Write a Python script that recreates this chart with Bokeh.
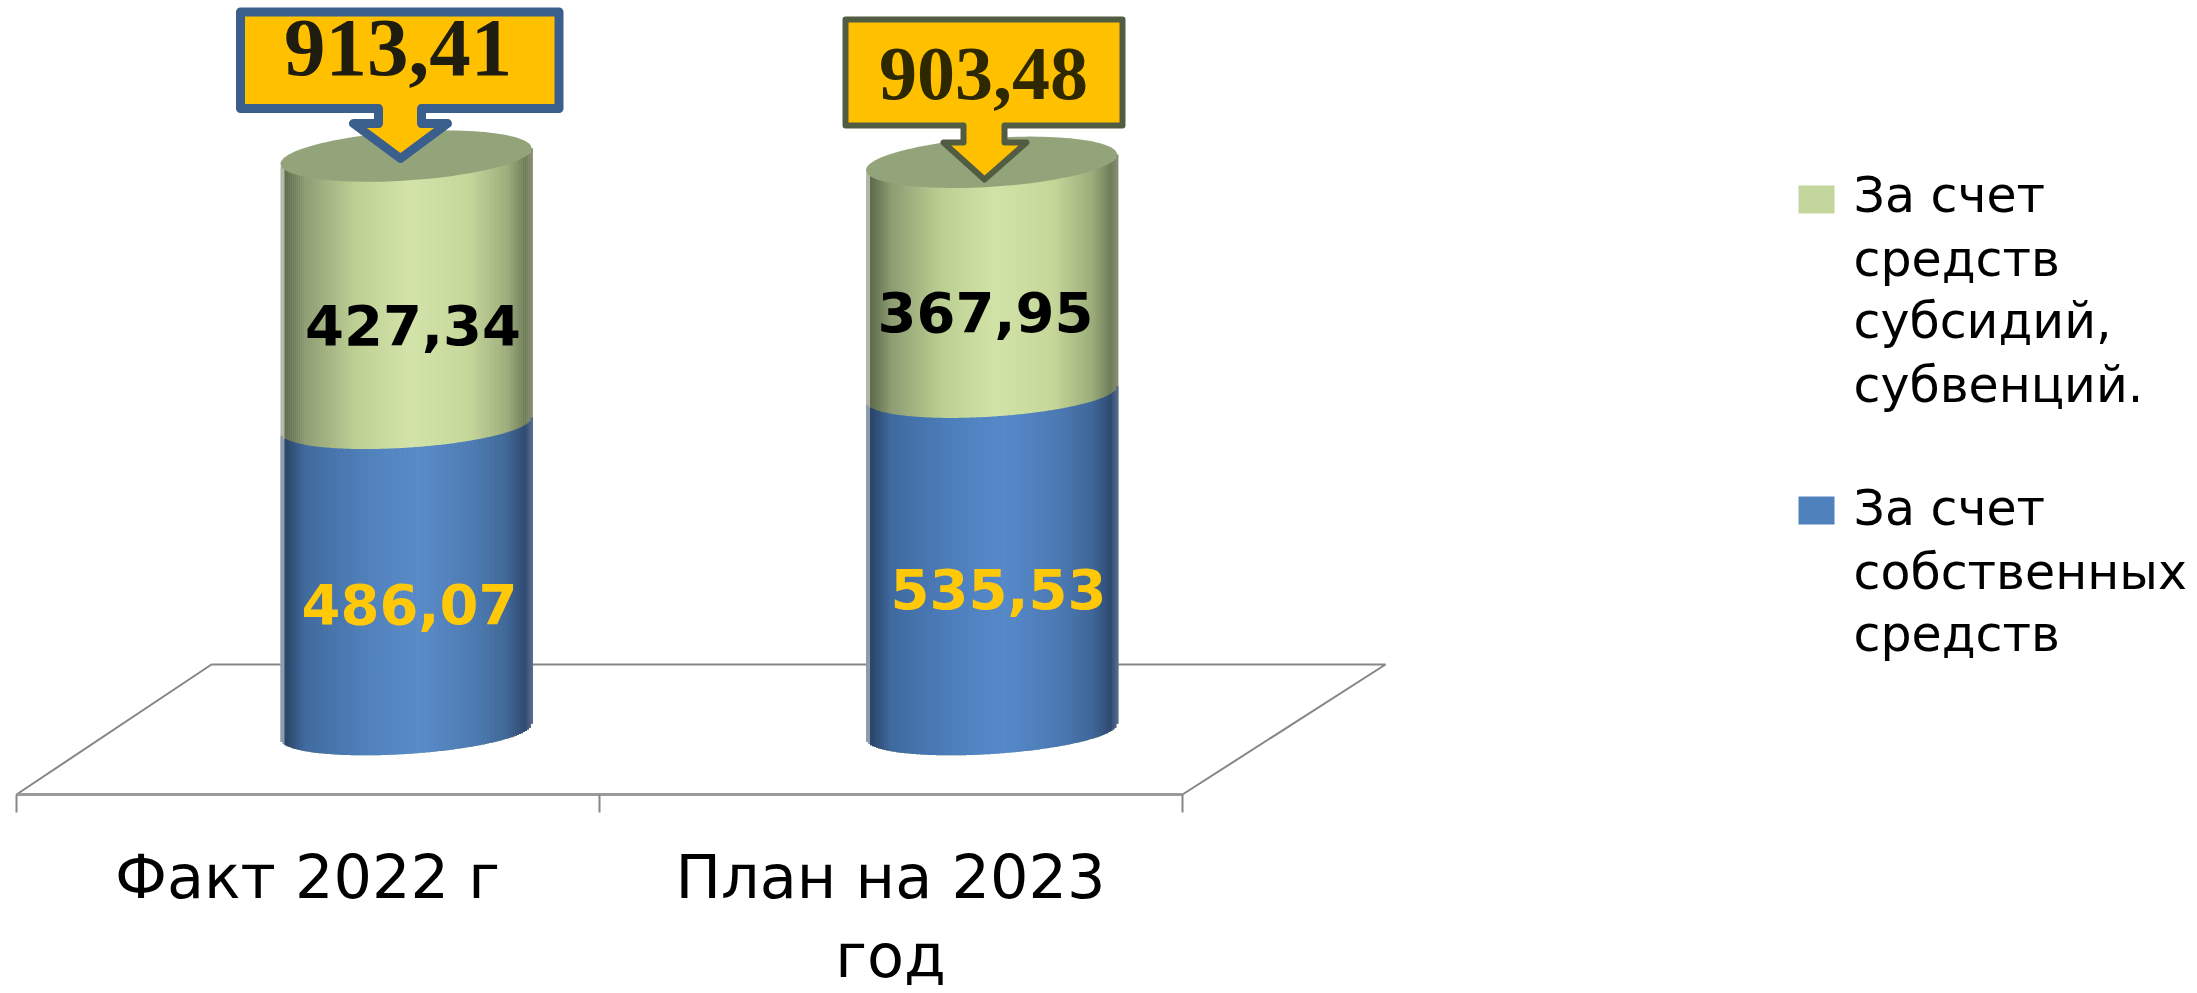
import numpy as np
from bokeh.core.properties import value
from bokeh.embed import file_html
from bokeh.models import FixedTicker, LinearAxis, Range1d
from bokeh.plotting import figure
from bokeh.resources import INLINE

# ---- data ----
categories = ["Факт 2022 г", "План на 2023\nгод"]
own_funds = [486.07, 535.53]
subsidies = [427.34, 367.95]
totals = [913.41, 903.48]
own_labels = ["486,07", "535,53"]
sub_labels = ["427,34", "367,95"]
total_labels = ["913,41", "903,48"]
legend_sub = ["За счет", "средств", "субсидий,", "субвенций."]
legend_own = ["За счет", "собственных", "средств"]

# ---- scale: reference pixels <-> data ----
PX_PER_UNIT = 0.63
BASE_PX = 731.0
CAT_PX = 583.0
LEFT_PX = 15.5
W, H = 2197, 993
AXIS_PX = 794.0
BASELINE_FIX = 0.38  # em offset of the renderer's text baseline


def X(px):
    return (np.asarray(px, dtype=float) - LEFT_PX) / CAT_PX


def Y(px):
    return (BASE_PX - np.asarray(px, dtype=float)) / PX_PER_UNIT


p = figure(
    width=W, height=H, output_backend="svg", toolbar_location=None,
    x_range=Range1d(float(X(0)), float(X(W))),
    y_range=Range1d(float(Y(H)), float(Y(0))),
    x_axis_location=None, y_axis_location=None,
    min_border=0,
    outline_line_color=None, background_fill_color="white", border_fill_color="white",
)
p.xgrid.visible = False
p.ygrid.visible = False

axis = LinearAxis(
    ticker=FixedTicker(ticks=[0.5, 1.5], minor_ticks=[0, 1, 2]),
    major_label_overrides={0.5: categories[0], 1.5: categories[1]},
    bounds=(0, 2),
    fixed_location=float(Y(AXIS_PX)),
    axis_line_color="#9a9a9a", axis_line_width=3,
    major_tick_line_color=None, major_tick_in=0, major_tick_out=0,
    minor_tick_line_color="#868686", minor_tick_line_width=2, minor_tick_in=0, minor_tick_out=18,
    major_label_text_font="DejaVu Sans", major_label_text_font_size="60.5px",
    major_label_text_color="black", major_label_standoff=29,
    major_label_text_line_height=1.14,
    major_label_orientation="horizontal",
)
p.add_layout(axis, "below")

# floor (perspective plane behind the bars)
floor_col = "#868686"
p.line(X([16, 211, 1385, 1182]), Y([AXIS_PX, 664, 664, AXIS_PX]), line_color=floor_col, line_width=2)

# ---- cylinders ----
GREEN_STOPS = [(0.0, "#b3b6a6"), (0.016, "#b3b6a6"), (0.02, "#5f6b4d"), (0.10, "#8d9c72"), (0.30, "#bccf92"),
               (0.52, "#d2e3a7"), (0.75, "#c4d698"), (0.90, "#9dad7b"), (0.975, "#6f7d58"), (1.0, "#868c72")]
BLUE_STOPS = [(0.0, "#8d9bb0"), (0.016, "#8d9bb0"), (0.02, "#2a4368"), (0.10, "#3f6aa0"), (0.35, "#4e7fbd"),
              (0.55, "#5789ca"), (0.78, "#4a78b2"), (0.90, "#3f6799"), (0.975, "#2f4a72"), (1.0, "#53688a")]
CAP_COLOR = "#94a47a"


def ramp(stops, t):
    pos = [s[0] for s in stops]
    rgb = np.array([[int(s[1][i:i + 2], 16) for i in (1, 3, 5)] for s in stops], dtype=float)
    return ["#%02x%02x%02x" % tuple(int(round(np.interp(v, pos, rgb[:, k]))) for k in range(3)) for v in t]


CENTERS_PX = [405.5, 991.0]
HALF_W = 125.5
ARC_B = 22.5
TILT = -0.062
STRIP = 2.0


def arc_dy(xs, cx, sign=1.0, b=ARC_B):
    s = np.clip((xs - cx) / HALF_W, -1, 1)
    return TILT * (xs - cx) + sign * b * np.sqrt(1 - s * s)


for i, cx in enumerate(CENTERS_PX):
    lefts = np.arange(cx - HALF_W, cx + HALF_W, STRIP)
    mids = lefts + STRIP / 2
    t = (mids - lefts[0]) / (2 * HALF_W)
    dv = arc_dy(mids, cx) / PX_PER_UNIT  # arc drop in data units
    own_top = own_funds[i]
    stack_top = own_funds[i] + subsidies[i]
    p.quad(left=X(lefts), right=X(lefts + STRIP + 0.4), bottom=0 - dv, top=stack_top - dv,
           fill_color=ramp(GREEN_STOPS, t), line_color=None)
    p.quad(left=X(lefts), right=X(lefts + STRIP + 0.4), bottom=0 - dv, top=own_top - dv,
           fill_color=ramp(BLUE_STOPS, t), line_color=None)
    # top cap
    th = np.linspace(0, 2 * np.pi, 121)
    cap_x = cx + HALF_W * np.cos(th)
    cap_dy = TILT * (cap_x - cx) + 24.5 * np.sin(th)
    p.patch(X(cap_x), stack_top - cap_dy / PX_PER_UNIT, fill_color=CAP_COLOR, line_color=None)


# ---- call-outs ----
def callout(box, neck, wing_y, wing, tip):
    (x0, y0, x1, y1) = box
    xs = [x0, x1, x1, neck[1], neck[1], wing[1], tip[0], wing[0], neck[0], neck[0], x0]
    ys = [y0, y0, y1, y1, wing_y, wing_y, tip[1], wing_y, wing_y, y1, y1]
    return X(xs), Y(ys)


def label(xs, ys, texts, font, size, color, style="normal", align="center"):
    ys_fixed = np.asarray(ys, dtype=float) - BASELINE_FIX * size
    p.text(X(xs), Y(ys_fixed), text=texts, text_font=value(font), text_font_style=style,
           text_font_size=value(f"{size}px"), text_color=color,
           text_align=align, text_baseline="alphabetic")


cx1, cy1 = callout((240, 11.5, 558.5, 108), (378, 421), 123, (353, 447), (400, 158))
p.patch(cx1, cy1, fill_color="#ffc000", line_color="#3a5f8c", line_width=9, line_join="round")
cx2, cy2 = callout((845, 19, 1122, 125), (963, 1004), 142, (943, 1026), (984, 179))
p.patch(cx2, cy2, fill_color="#ffc000", line_color="#525c42", line_width=6, line_join="round")

label([397.5], [79], [total_labels[0]], "Liberation Serif", 83, "#1f1c10", "bold")
label([983], [102], [total_labels[1]], "Liberation Serif", 76, "#2e2800", "bold")

# ---- value labels ----
label([412.5, 985], [345.5, 333], sub_labels, "DejaVu Sans", 56, "black", "bold")
label([409, 998], [625, 610], own_labels, "DejaVu Sans", 56, "#ffc90a", "bold")

# ---- legend ----
LEG_X0, LEG_X1, LEG_TX = 1798, 1834, 1853
p.quad(left=X([LEG_X0]), right=X([LEG_X1]), bottom=Y([213]), top=Y([185]), fill_color="#c3d69b", line_color=None)
p.quad(left=X([LEG_X0]), right=X([LEG_X1]), bottom=Y([524]), top=Y([496]), fill_color="#4f81bd", line_color=None)
label([LEG_TX] * 4, [214, 278, 340, 404], legend_sub, "DejaVu Sans", 49, "black", align="left")
label([LEG_TX] * 3, [527, 591, 653], legend_own, "DejaVu Sans", 49, "black", align="left")

open("out.html", "w").write(file_html(p, INLINE))
